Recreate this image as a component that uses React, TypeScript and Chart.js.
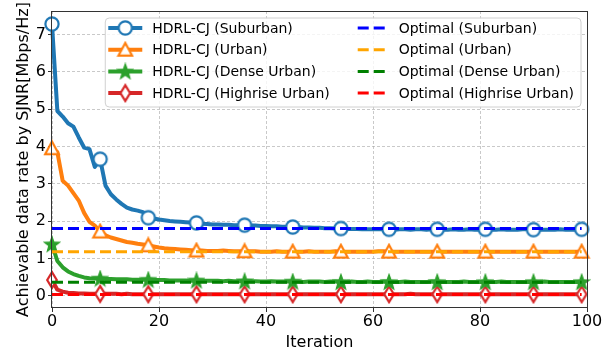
import React, { useEffect, useRef } from 'react';
import { Chart, registerables } from 'chart.js';

Chart.register(...registerables);

// ---------------- data ----------------
const iterations: number[] = Array.from({ length: 100 }, (_, i) => i);
const markerEvery: number[] = [0, 9, 18, 27, 36, 45, 54, 63, 72, 81, 90, 99];
const xTicks: number[] = [0, 20, 40, 60, 80, 100];
const yTicks: number[] = [0, 1, 2, 3, 4, 5, 6, 7];

const suburban: number[] = [
  7.28, 4.95, 4.80, 4.62, 4.53, 4.24, 3.97, 3.93, 3.45, 3.66,
  2.95, 2.72, 2.58, 2.46, 2.36, 2.31, 2.28, 2.24, 2.09, 2.07,
  2.04, 2.02, 2.00, 1.99, 1.98, 1.97, 1.96, 1.95, 1.93, 1.92,
  1.91, 1.91, 1.90, 1.90, 1.89, 1.89, 1.89, 1.88, 1.88, 1.87,
  1.87, 1.86, 1.86, 1.85, 1.85, 1.84, 1.84, 1.83, 1.83, 1.82,
  1.82, 1.81, 1.81, 1.80, 1.80, 1.79, 1.79, 1.79, 1.78, 1.78,
  1.78, 1.78, 1.78, 1.78, 1.77, 1.78, 1.78, 1.77, 1.78, 1.78,
  1.77, 1.78, 1.78, 1.77, 1.77, 1.78, 1.77, 1.77, 1.78, 1.77,
  1.77, 1.78, 1.77, 1.77, 1.78, 1.77, 1.77, 1.77, 1.78, 1.79,
  1.77, 1.77, 1.77, 1.77, 1.77, 1.78, 1.77, 1.77, 1.77, 1.78,
];
const urban: number[] = [
  3.95, 3.85, 3.08, 2.95, 2.75, 2.55, 2.22, 1.98, 1.88, 1.72,
  1.62, 1.56, 1.52, 1.48, 1.44, 1.42, 1.39, 1.37, 1.35, 1.32,
  1.29, 1.27, 1.26, 1.25, 1.24, 1.23, 1.22, 1.21, 1.21, 1.20,
  1.20, 1.20, 1.21, 1.20, 1.19, 1.19, 1.19, 1.19, 1.19, 1.18,
  1.18, 1.18, 1.19, 1.18, 1.18, 1.18, 1.18, 1.18, 1.19, 1.18,
  1.18, 1.18, 1.18, 1.19, 1.18, 1.18, 1.18, 1.18, 1.18, 1.18,
  1.18, 1.19, 1.19, 1.18, 1.18, 1.18, 1.18, 1.18, 1.18, 1.18,
  1.18, 1.18, 1.18, 1.18, 1.18, 1.18, 1.18, 1.18, 1.18, 1.18,
  1.18, 1.18, 1.18, 1.18, 1.18, 1.18, 1.18, 1.18, 1.18, 1.18,
  1.18, 1.18, 1.18, 1.18, 1.18, 1.18, 1.18, 1.18, 1.18, 1.18,
];
const denseUrban: number[] = [
  1.38, 0.93, 0.76, 0.65, 0.58, 0.53, 0.49, 0.47, 0.46, 0.46,
  0.45, 0.45, 0.44, 0.44, 0.44, 0.43, 0.43, 0.43, 0.43, 0.42,
  0.42, 0.42, 0.41, 0.41, 0.41, 0.41, 0.40, 0.41, 0.40, 0.40,
  0.40, 0.40, 0.39, 0.40, 0.39, 0.39, 0.39, 0.39, 0.39, 0.38,
  0.38, 0.39, 0.38, 0.38, 0.38, 0.38, 0.38, 0.37, 0.38, 0.38,
  0.38, 0.37, 0.38, 0.38, 0.37, 0.37, 0.38, 0.37, 0.37, 0.38,
  0.37, 0.37, 0.38, 0.37, 0.37, 0.37, 0.38, 0.37, 0.37, 0.37,
  0.37, 0.38, 0.37, 0.37, 0.37, 0.37, 0.37, 0.38, 0.37, 0.37,
  0.37, 0.37, 0.37, 0.37, 0.38, 0.37, 0.37, 0.37, 0.37, 0.37,
  0.37, 0.37, 0.38, 0.37, 0.37, 0.37, 0.37, 0.37, 0.37, 0.37,
];
const highriseUrban: number[] = [
  0.42, 0.16, 0.11, 0.08, 0.07, 0.06, 0.06, 0.05, 0.05, 0.05,
  0.05, 0.05, 0.05, 0.04, 0.05, 0.04, 0.04, 0.04, 0.04, 0.04,
  0.04, 0.04, 0.04, 0.04, 0.04, 0.04, 0.04, 0.04, 0.04, 0.04,
  0.04, 0.04, 0.04, 0.04, 0.04, 0.04, 0.04, 0.04, 0.04, 0.04,
  0.04, 0.04, 0.04, 0.04, 0.04, 0.04, 0.04, 0.04, 0.04, 0.04,
  0.04, 0.04, 0.04, 0.04, 0.04, 0.04, 0.04, 0.04, 0.04, 0.04,
  0.04, 0.04, 0.04, 0.04, 0.04, 0.04, 0.04, 0.05, 0.04, 0.04,
  0.04, 0.04, 0.04, 0.04, 0.04, 0.04, 0.04, 0.04, 0.04, 0.04,
  0.04, 0.04, 0.04, 0.04, 0.04, 0.04, 0.04, 0.04, 0.04, 0.04,
  0.04, 0.04, 0.04, 0.04, 0.04, 0.04, 0.04, 0.04, 0.04, 0.04,
];

const optimalSuburban = 1.80;
const optimalUrban = 1.18;
const optimalDenseUrban = 0.36;
const optimalHighriseUrban = 0.03;

const hdrlLabels = ['HDRL-CJ (Suburban)', 'HDRL-CJ (Urban)', 'HDRL-CJ (Dense Urban)', 'HDRL-CJ (Highrise Urban)'];
const optimalLabels = ['Optimal (Suburban)', 'Optimal (Urban)', 'Optimal (Dense Urban)', 'Optimal (Highrise Urban)'];
const hdrlSeries = [suburban, urban, denseUrban, highriseUrban];
const optimalValues = [optimalSuburban, optimalUrban, optimalDenseUrban, optimalHighriseUrban];

// ---------------- styles ----------------
const hdrlColors = ['#1f77b4', '#ff7f0e', '#2ca02c', '#d62728'];
const optimalColors = ['#0000ff', '#ffa500', '#008000', '#ff0000'];
const markerKinds = ['circle', 'triangle', 'star', 'thinDiamond'];
const FONT = "'DejaVu Sans', sans-serif";

function makeMarker(kind: string, color: string): HTMLCanvasElement {
  const c = document.createElement('canvas');
  const size = kind === 'thinDiamond' ? [14, 20] : [18, 18];
  c.width = size[0];
  c.height = size[1];
  const g = c.getContext('2d')!;
  const cx = size[0] / 2;
  const cy = size[1] / 2;
  g.lineWidth = 2.2;
  g.strokeStyle = color;
  g.fillStyle = '#ffffff';
  g.lineJoin = 'miter';
  g.beginPath();
  if (kind === 'circle') {
    g.arc(cx, cy, 6.6, 0, Math.PI * 2);
  } else if (kind === 'triangle') {
    const r = 6.8;
    g.moveTo(cx, cy - r);
    g.lineTo(cx + r, cy + r * 0.85);
    g.lineTo(cx - r, cy + r * 0.85);
    g.closePath();
  } else if (kind === 'star') {
    const R = 8, r = 3.3;
    for (let k = 0; k < 10; k++) {
      const rad = k % 2 === 0 ? R : r;
      const a = -Math.PI / 2 + (k * Math.PI) / 5;
      const px = cx + rad * Math.cos(a);
      const py = cy + 0.5 + rad * Math.sin(a);
      if (k === 0) g.moveTo(px, py);
      else g.lineTo(px, py);
    }
    g.closePath();
    g.fillStyle = color;
    g.lineWidth = 1.2;
  } else {
    const ry = 7.8, rx = 4.8;
    g.moveTo(cx, cy - ry);
    g.lineTo(cx + rx, cy);
    g.lineTo(cx, cy + ry);
    g.lineTo(cx - rx, cy);
    g.closePath();
  }
  g.fill();
  g.stroke();
  return c;
}

export default function App() {
  const ref = useRef<HTMLCanvasElement>(null);

  useEffect(() => {
    document.body.style.margin = '0';
    const markers = markerKinds.map((k, i) => makeMarker(k, hdrlColors[i]));

    const hdrlDatasets = hdrlSeries.map((series, i) => ({
      label: hdrlLabels[i],
      data: series.map((y, j) => ({ x: iterations[j], y })),
      borderColor: hdrlColors[i],
      backgroundColor: hdrlColors[i],
      borderWidth: 4,
      tension: 0,
      borderJoinStyle: 'round' as const,
      borderCapStyle: 'round' as const,
      pointStyle: markers[i],
      pointRadius: (c: any) => (markerEvery.includes(c.dataIndex) ? 7 : 0),
      pointHoverRadius: 0,
      clip: false as any,
      order: 2,
    }));
    const optimalDatasets = optimalValues.map((v, i) => ({
      label: optimalLabels[i],
      data: [
        { x: iterations[0], y: v },
        { x: iterations[iterations.length - 1], y: v },
      ],
      borderColor: optimalColors[i],
      backgroundColor: optimalColors[i],
      borderWidth: 3,
      borderDash: [11, 5],
      pointRadius: 0,
      pointHoverRadius: 0,
      tension: 0,
      order: 1,
    }));

    const framePlugin = {
      id: 'frame',
      afterDatasetsDraw(chart: any) {
        const { ctx, chartArea: a } = chart;
        ctx.save();
        ctx.strokeStyle = '#333333';
        ctx.lineWidth = 1;
        ctx.setLineDash([]);
        ctx.strokeRect(Math.round(a.left) - 0.5, Math.round(a.top) + 0.5, Math.round(a.right - a.left) + 1, Math.round(a.bottom - a.top) - 1);
        ctx.restore();
      },
    };

    const legendPlugin = {
      id: 'mplLegend',
      afterDraw(chart: any) {
        const { ctx, chartArea: a } = chart;
        const ds = chart.data.datasets;
        ctx.save();
        ctx.font = `14px ${FONT}`;
        const w1 = Math.max(...hdrlLabels.map((t) => ctx.measureText(t).width));
        const w2 = Math.max(...optimalLabels.map((t) => ctx.measureText(t).width));
        const lpad = 3, rpad = 7;
        const hl1 = 34, gap1 = 10, cs = 28, hl2 = 28, gap2 = 13;
        const rowH = 21.7;
        const boxW = lpad + hl1 + gap1 + w1 + cs + hl2 + gap2 + w2 + rpad;
        const boxH = 89;
        const right = a.right - 6;
        const top = a.top + 7;
        const left = right - boxW;
        // box
        ctx.beginPath();
        const rr = 4;
        ctx.moveTo(left + rr, top);
        ctx.arcTo(right, top, right, top + boxH, rr);
        ctx.arcTo(right, top + boxH, left, top + boxH, rr);
        ctx.arcTo(left, top + boxH, left, top, rr);
        ctx.arcTo(left, top, right, top, rr);
        ctx.closePath();
        ctx.fillStyle = 'rgba(255,255,255,0.8)';
        ctx.fill();
        ctx.strokeStyle = '#d0d0d0';
        ctx.lineWidth = 1;
        ctx.stroke();

        const col1x = left + lpad;
        const col2x = col1x + hl1 + gap1 + w1 + cs;
        for (let i = 0; i < 4; i++) {
          const y = top + 10 + i * rowH;
          // HDRL handle
          const d = ds[i];
          ctx.setLineDash([]);
          ctx.strokeStyle = d.borderColor;
          ctx.lineWidth = 4;
          ctx.lineCap = 'butt';
          ctx.beginPath();
          ctx.moveTo(col1x, y);
          ctx.lineTo(col1x + hl1, y);
          ctx.stroke();
          const m = markers[i];
          ctx.drawImage(m, col1x + hl1 / 2 - m.width / 2, y - m.height / 2);
          ctx.fillStyle = '#000';
          ctx.textBaseline = 'middle';
          ctx.textAlign = 'left';
          ctx.fillText(d.label, col1x + hl1 + gap1, y + 1);
          // Optimal handle
          const o = ds[4 + i];
          ctx.strokeStyle = o.borderColor;
          ctx.lineWidth = 3;
          ctx.setLineDash([11, 5]);
          ctx.beginPath();
          ctx.moveTo(col2x, y);
          ctx.lineTo(col2x + hl2, y);
          ctx.stroke();
          ctx.setLineDash([]);
          ctx.fillText(o.label, col2x + hl2 + gap2, y + 1);
        }
        ctx.restore();
      },
    };

    const zeroPad = (axis: any) => {
      axis.paddingTop = 0;
      axis.paddingBottom = 0;
      axis.paddingLeft = 0;
      axis.paddingRight = 0;
    };

    const chart = new Chart(ref.current!, {
      type: 'line',
      data: { datasets: [...hdrlDatasets, ...optimalDatasets] as any },
      options: {
        responsive: false,
        animation: false,
        devicePixelRatio: 1,
        events: [],
        layout: { padding: { top: 7, right: 26, bottom: 0, left: 0 } },
        plugins: { legend: { display: false }, tooltip: { enabled: false } },
        scales: {
          x: {
            type: 'linear',
            min: 0,
            max: 100,
            afterBuildTicks: (axis: any) => {
              axis.ticks = xTicks.map((v) => ({ value: v }));
            },
            afterFit: (axis: any) => {
              axis.height = 48;
              zeroPad(axis);
            },
            ticks: { font: { family: FONT, size: 16 }, color: '#000', padding: 0, maxRotation: 0, autoSkip: false },
            grid: { color: 'rgba(170,170,170,0.8)', lineWidth: 0.8, tickLength: 4, tickColor: '#333', tickWidth: 1 },
            border: { display: false, dash: [3, 2] },
            title: { display: true, text: 'Iteration', font: { family: FONT, size: 16 }, color: '#000', padding: { top: 0, bottom: 4 } },
          },
          y: {
            type: 'linear',
            min: -0.33,
            max: 7.63,
            afterBuildTicks: (axis: any) => {
              axis.ticks = yTicks.map((v) => ({ value: v }));
            },
            afterFit: (axis: any) => {
              axis.width = 52;
              zeroPad(axis);
            },
            ticks: { font: { family: FONT, size: 16 }, color: '#000', padding: 2, autoSkip: false },
            grid: { color: 'rgba(170,170,170,0.8)', lineWidth: 0.8, tickLength: 4, tickColor: '#333', tickWidth: 1 },
            border: { display: false, dash: [3, 2] },
            title: {
              display: true,
              text: 'Achievable data rate by SJNR[Mbps/Hz]',
              font: { family: FONT, size: 16 },
              color: '#000',
              padding: { top: 14, bottom: 0 },
            },
          },
        },
      },
      plugins: [framePlugin, legendPlugin],
    });
    return () => chart.destroy();
  }, []);

  return (
    <div style={{ width: 613, height: 356 }}>
      <canvas ref={ref} width={613} height={356} style={{ display: 'block' }} />
    </div>
  );
}
